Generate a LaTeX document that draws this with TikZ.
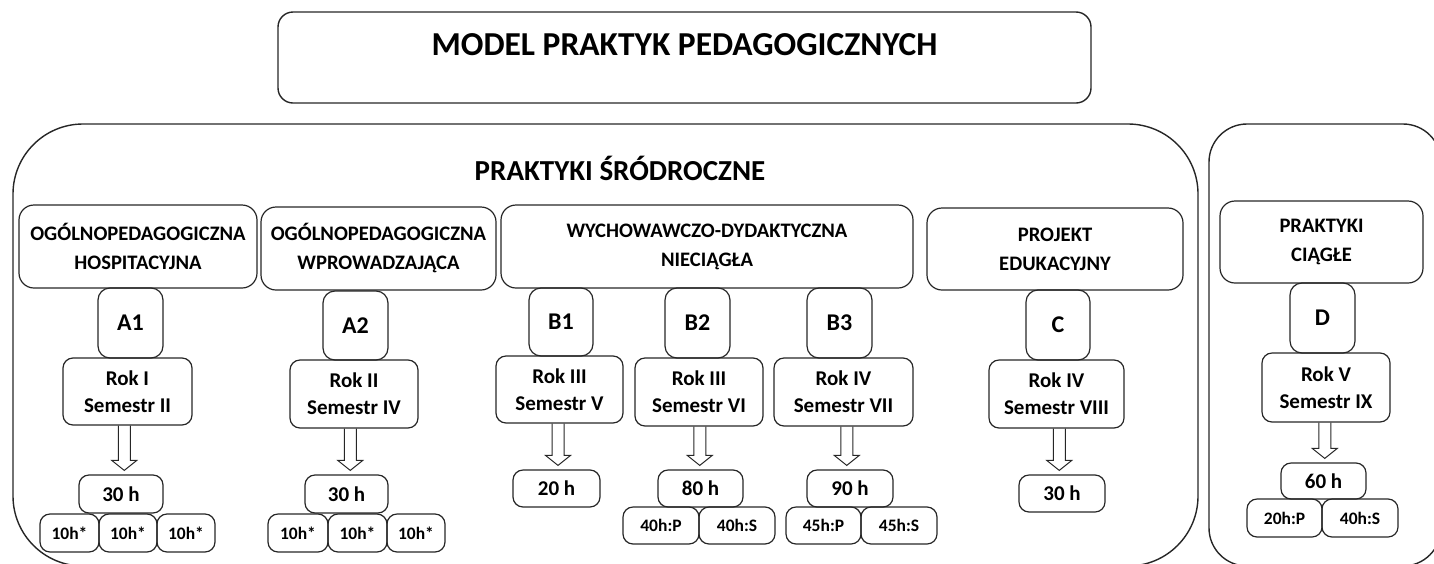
\documentclass[tikz,border=0pt]{standalone}
\usepackage{fontspec}
\setmainfont{Carlito}
\usepackage{tikz}
\usetikzlibrary{calc}

% hollow block arrow from a semester box down to its hours box
\newcommand{\hollowarrow}[2]{%
  \draw[hollow] let \p1=($(#1.south)!0.5!(#2.north)$), \p2=(#1.south), \p3=(#2.north) in
    (\x1-6,\y2) -- (\x1-6,\y3+14) -- (\x1-12.5,\y3+14) -- (\x1,\y3+4)
    -- (\x1+12.5,\y3+14) -- (\x1+6,\y3+14) -- (\x1+6,\y2);}

\tikzset{
  outer/.style={draw=black!85, line width=1.4pt},
  box/.style={draw=black!85, line width=1.2pt, rounded corners=10, align=center, inner sep=0pt},
  hdr/.style={box, rounded corners=15, font=\bfseries\fontsize{20.6}{29}\selectfont},
  code/.style={box, rounded corners=12, font=\bfseries\fontsize{24}{28}\selectfont},
  sem/.style={box, font=\bfseries\fontsize{21}{27}\selectfont},
  hours/.style={box, font=\bfseries\fontsize{21}{24}\selectfont},
  part/.style={box, font=\bfseries\fontsize{17.5}{20}\selectfont},
  hollow/.style={draw=black!85, line width=1pt},
}

\begin{document}
\begin{tikzpicture}[x=1pt,y=-1pt]
    \useasboundingbox (0,0) rectangle (1434,563);
    \clip (0,0) rectangle (1434,563);

    % Title
    \draw[outer, rounded corners=15] (278,12) rectangle (1091,103);
    \node[anchor=base, font=\bfseries\fontsize{33.5}{40}\selectfont] (model) at (684.5,55) {MODEL PRAKTYK PEDAGOGICZNYCH};

    % Frames
    \draw[outer, rounded corners=70] (13,124) rectangle (1198,566);
    \draw[outer, rounded corners=38] (1209,124) rectangle (1441,566);
    \node[anchor=base, font=\bfseries\fontsize{29}{34}\selectfont] (srod) at (620,180) {PRAKTYKI ŚRÓDROCZNE};

    % A1
    \node[hdr, minimum width=238, minimum height=83] (hdrA1) at (138,246.5) {OGÓLNOPEDAGOGICZNA\\HOSPITACYJNA};
    \node[code, minimum width=65, minimum height=70] (A1) at (130.5,323) {A1};
    \node[sem, minimum width=129, minimum height=67] (rokA1) at (127.5,391.5) {Rok I\\Semestr II};
    \node[hours, minimum width=84, minimum height=38] (hA1) at (121,494) {30 h};
    \node[part, minimum width=59, minimum height=38] (pA1a) at (69.5,533) {10h*};
    \node[part, minimum width=58, minimum height=38] (pA1b) at (128,533) {10h*};
    \node[part, minimum width=58, minimum height=38] (pA1c) at (186,533) {10h*};
    \hollowarrow{rokA1}{hA1}

    % A2
    \node[hdr, minimum width=235, minimum height=83] (hdrA2) at (378.5,248.5) {OGÓLNOPEDAGOGICZNA\\WPROWADZAJĄCA};
    \node[code, minimum width=65, minimum height=69] (A2) at (355.5,325.5) {A2};
    \node[sem, minimum width=128, minimum height=68] (rokA2) at (354,394) {Rok II\\Semestr IV};
    \node[hours, minimum width=83, minimum height=38] (hA2) at (346.5,494) {30 h};
    \node[part, minimum width=60, minimum height=38] (pA2a) at (298,533) {10h*};
    \node[part, minimum width=59, minimum height=38] (pA2b) at (357.5,533) {10h*};
    \node[part, minimum width=58, minimum height=38] (pA2c) at (416,533) {10h*};
    \hollowarrow{rokA2}{hA2}

    % B
    \node[hdr, minimum width=412, minimum height=83] (hdrB) at (707,246.5) {WYCHOWAWCZO-DYDAKTYCZNA\\NIECIĄGŁA};
    \node[code, minimum width=64, minimum height=68] (B1) at (561,322) {B1};
    \node[sem, minimum width=127, minimum height=67] (rokB1) at (559.5,389.5) {Rok III\\Semestr V};
    \node[hours, minimum width=87, minimum height=37] (hB1) at (556.5,488.5) {20 h};
    \hollowarrow{rokB1}{hB1}

    \node[code, minimum width=65, minimum height=70] (B2) at (697.5,323) {B2};
    \node[sem, minimum width=128, minimum height=68] (rokB2) at (699,392) {Rok III\\Semestr VI};
    \node[hours, minimum width=85, minimum height=37] (hB2) at (700.5,488.5) {80 h};
    \node[part, minimum width=76, minimum height=37] (pB2a) at (661,525.5) {40h:P};
    \node[part, minimum width=76, minimum height=37] (pB2b) at (737,525.5) {40h:S};
    \hollowarrow{rokB2}{hB2}

    \node[code, minimum width=65, minimum height=70] (B3) at (839.5,323) {B3};
    \node[sem, minimum width=139, minimum height=68] (rokB3) at (843.5,392) {Rok IV\\Semestr VII};
    \node[hours, minimum width=86, minimum height=37] (hB3) at (850,488.5) {90 h};
    \node[part, minimum width=75, minimum height=37] (pB3a) at (823.5,525.5) {45h:P};
    \node[part, minimum width=76, minimum height=37] (pB3b) at (899,525.5) {45h:S};
    \hollowarrow{rokB3}{hB3}

    % C
    \node[hdr, minimum width=256, minimum height=82] (hdrC) at (1055,249) {PROJEKT\\EDUKACYJNY};
    \node[code, minimum width=64, minimum height=70] (C) at (1058,325) {C};
    \node[sem, minimum width=135, minimum height=68] (rokC) at (1056.5,394) {Rok IV\\Semestr VIII};
    \node[hours, minimum width=86, minimum height=37] (hC) at (1062,493.5) {30 h};
    \hollowarrow{rokC}{hC}

    % D
    \node[hdr, minimum width=203, minimum height=82] (hdrD) at (1321.5,242) {PRAKTYKI\\CIĄGŁE};
    \node[code, minimum width=65, minimum height=70] (D) at (1322.5,318) {D};
    \node[sem, minimum width=128, minimum height=69] (rokD) at (1326,387.5) {Rok V\\Semestr IX};
    \node[hours, minimum width=85, minimum height=36] (hD) at (1323.5,481) {60 h};
    \node[part, minimum width=75, minimum height=38] (pDa) at (1284.5,518) {20h:P};
    \node[part, minimum width=76, minimum height=38] (pDb) at (1360,518) {40h:S};
    \hollowarrow{rokD}{hD}
\end{tikzpicture}
\end{document}
